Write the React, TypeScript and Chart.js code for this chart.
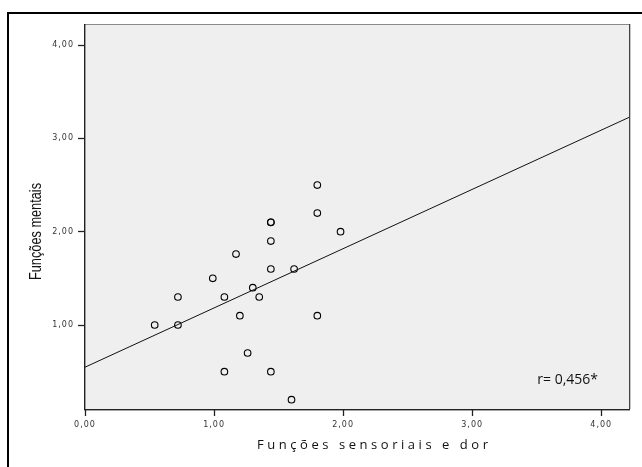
import React, { useEffect, useRef } from "react";
import { Chart, registerables } from "chart.js";

Chart.register(...registerables);

// Data
const xValues = [0.54, 0.72, 0.72, 0.99, 1.08, 1.08, 1.17, 1.2, 1.26, 1.3, 1.35, 1.44, 1.44, 1.44, 1.44, 1.44, 1.6, 1.62, 1.8, 1.8, 1.8, 1.98];
const yValues = [1.0, 1.3, 1.0, 1.5, 1.3, 0.5, 1.76, 1.1, 0.7, 1.4, 1.3, 2.1, 2.1, 1.9, 1.6, 0.5, 0.2, 1.6, 2.5, 2.2, 1.1, 2.0];
const fitX = [0, 4.215];
const fitY = [0.548, 3.225];
const xTicks = [0, 1, 2, 3, 4];
const yTicks = [1, 2, 3, 4];
const xRange = [0, 4.215];
const yRange = [0.1, 4.215];
const xTitle = "Funções sensoriais e dor";
const yTitle = "Funções mentais";
const annotation = "r= 0,456*";

const fmt = (v: number) => v.toFixed(2).replace(".", ",");

const decor = {
  id: "decor",
  beforeDraw(chart: any) {
    const { ctx, chartArea: a } = chart;
    ctx.save();
    ctx.fillStyle = "#ffffff";
    ctx.fillRect(0, 0, chart.width, chart.height);
    ctx.fillStyle = "#000000";
    ctx.fillRect(7, 12, 2, chart.height);
    ctx.fillRect(7, 12, chart.width, 2);
    ctx.fillStyle = "#efefef";
    ctx.fillRect(a.left, a.top, a.right - a.left, a.bottom - a.top);
    ctx.restore();
    ctx.letterSpacing = "1px";
  },
  beforeDatasetsDraw(chart: any) {
    const { ctx, chartArea: a } = chart;
    ctx.save();
    ctx.fillStyle = "#8a8a8a";
    ctx.fillRect(a.left, a.top - 1, a.right - a.left, 1);
    ctx.fillStyle = "#444444";
    ctx.fillRect(a.right, a.top - 1, 1.3, a.bottom - a.top + 1);
    ctx.fillStyle = "#222222";
    ctx.fillRect(a.left - 1, a.top - 1, 1.4, a.bottom - a.top + 2);
    ctx.fillRect(a.left - 1, a.bottom, a.right - a.left + 2, 1.4);
    ctx.restore();
  },
  afterDraw(chart: any) {
    const { ctx } = chart;
    ctx.save();
    ctx.letterSpacing = "0px";
    ctx.fillStyle = "#111111";
    // x title
    ctx.font = '13px "Open Sans"';
    const w = ctx.measureText(xTitle).width;
    const n = Array.from(xTitle).length;
    const sp = (231 - w) / (n - 1);
    ctx.letterSpacing = sp + "px";
    ctx.textAlign = "left";
    ctx.textBaseline = "alphabetic";
    ctx.fillText(xTitle, 257, 449);
    ctx.letterSpacing = "0px";
    // y title
    ctx.save();
    ctx.translate(41, 231.5);
    ctx.rotate(-Math.PI / 2);
    ctx.font = '16px "Liberation Sans"';
    ctx.textAlign = "center";
    ctx.fillText(yTitle, 0, 0, 97);
    ctx.restore();
    // annotation
    ctx.font = '14px "Open Sans"';
    ctx.textAlign = "right";
    ctx.fillText(annotation, 598, 384);
    ctx.restore();
    ctx.letterSpacing = "0px";
  },
};

export default function App() {
  const ref = useRef<HTMLCanvasElement | null>(null);
  useEffect(() => {
    if (!ref.current) return;
    const points = xValues.map((x, i) => ({ x, y: yValues[i] }));
    const fit = fitX.map((x, i) => ({ x, y: fitY[i] }));
    const axisCommon = (ticksArr: number[]) => ({
      type: "linear" as const,
      afterBuildTicks: (s: any) => {
        s.ticks = ticksArr.map((v) => ({ value: v }));
      },
      ticks: {
        callback: (v: any) => fmt(Number(v)),
        font: { family: "DejaVu Sans", size: 8 },
        color: "#333333",
        padding: 4,
        autoSkip: false,
        maxRotation: 0,
      },
      grid: {
        drawOnChartArea: false,
        drawTicks: true,
        tickLength: 7,
        tickWidth: 1.3,
        tickColor: "#222222",
      },
      border: { display: false },
    });
    const chart = new Chart(ref.current, {
      type: "scatter",
      data: {
        datasets: [
          {
            type: "line",
            data: fit,
            borderColor: "#111111",
            borderWidth: 1,
            pointRadius: 0,
            showLine: true,
            fill: false,
          } as any,
          {
            data: points,
            pointStyle: "circle",
            pointRadius: 3.3,
            pointBorderWidth: 1.1,
            pointBorderColor: "#000000",
            pointBackgroundColor: "rgba(0,0,0,0)",
            showLine: false,
          } as any,
        ],
      },
      options: {
        animation: false,
        responsive: false,
        events: [],
        layout: { padding: { left: 0, top: 25, right: 13, bottom: 0 } },
        plugins: { legend: { display: false }, tooltip: { enabled: false } },
        scales: {
          x: {
            ...axisCommon(xTicks),
            min: xRange[0],
            max: xRange[1],
            afterFit: (s: any) => {
              s.height = 58;
            },
          } as any,
          y: {
            ...axisCommon(yTicks),
            min: yRange[0],
            max: yRange[1],
            afterFit: (s: any) => {
              s.width = 85;
            },
          } as any,
        },
      },
      plugins: [decor],
    });
    return () => chart.destroy();
  }, []);
  return (
    <div style={{ position: "fixed", left: 0, top: 0, width: 642, height: 467 }}>
      <canvas ref={ref} width={642} height={467} style={{ display: "block" }} />
    </div>
  );
}
